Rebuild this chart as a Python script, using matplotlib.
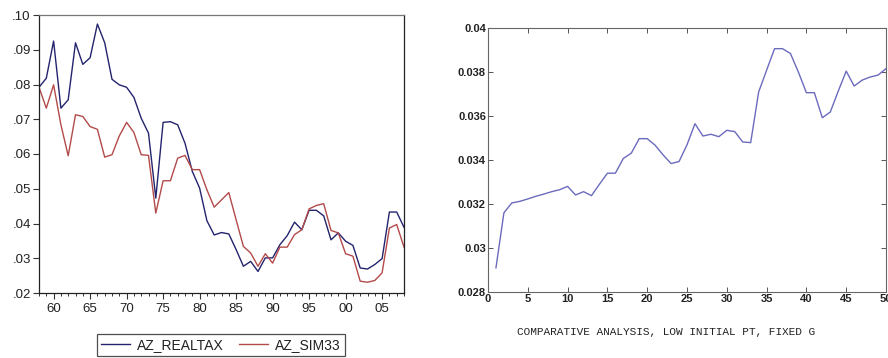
import matplotlib
matplotlib.use("Agg")
import matplotlib.pyplot as plt
from matplotlib.lines import Line2D
import numpy as np

# ---- Left panel data: annual series 1958-2008 ----
years = list(range(1958, 2009))
az_realtax = [
    0.0792, 0.0818, 0.0925, 0.0732, 0.0756, 0.0920, 0.0858, 0.0877, 0.0974, 0.0920,
    0.0815, 0.0799, 0.0792, 0.0763, 0.0703, 0.0660, 0.0473, 0.0691, 0.0693, 0.0684,
    0.0631, 0.0550, 0.0502, 0.0408, 0.0367, 0.0374, 0.0370, 0.0325, 0.0277, 0.0291,
    0.0262, 0.0301, 0.0301, 0.0339, 0.0365, 0.0404, 0.0382, 0.0438, 0.0438, 0.0422,
    0.0353, 0.0373, 0.0349, 0.0337, 0.0272, 0.0269, 0.0282, 0.0299, 0.0433, 0.0433,
    0.0389,
]
az_sim33 = [
    0.0792, 0.0732, 0.0799, 0.0684, 0.0595, 0.0713, 0.0708, 0.0679, 0.0671, 0.0591,
    0.0598, 0.0652, 0.0691, 0.0662, 0.0598, 0.0596, 0.0430, 0.0523, 0.0523, 0.0588,
    0.0596, 0.0555, 0.0555, 0.0497, 0.0447, 0.0468, 0.0489, 0.0411, 0.0334, 0.0315,
    0.0277, 0.0313, 0.0286, 0.0332, 0.0332, 0.0368, 0.0382, 0.0442, 0.0452, 0.0457,
    0.0380, 0.0373, 0.0313, 0.0306, 0.0234, 0.0231, 0.0236, 0.0258, 0.0387, 0.0397,
    0.0332,
]
left_yticks = [0.02, 0.03, 0.04, 0.05, 0.06, 0.07, 0.08, 0.09, 0.10]
left_yticklabels = [".02", ".03", ".04", ".05", ".06", ".07", ".08", ".09", ".10"]
left_xticks = list(range(1960, 2006, 5))
left_xticklabels = ["60", "65", "70", "75", "80", "85", "90", "95", "00", "05"]
series_names = ["AZ_REALTAX", "AZ_SIM33"]

# ---- Right panel data: simulated path over 50 periods ----
periods = list(range(1, 51))
sim_path = [
    0.02910, 0.03160, 0.03205, 0.03212, 0.03223, 0.03235, 0.03245, 0.03256, 0.03265, 0.03280,
    0.03241, 0.03256, 0.03238, 0.03290, 0.03340, 0.03340, 0.03407, 0.03431, 0.03497, 0.03497,
    0.03467, 0.03423, 0.03384, 0.03393, 0.03469, 0.03565, 0.03509, 0.03517, 0.03506, 0.03535,
    0.03529, 0.03482, 0.03479, 0.03709, 0.03808, 0.03906, 0.03906, 0.03884, 0.03799, 0.03706,
    0.03706, 0.03592, 0.03618, 0.03713, 0.03804, 0.03736, 0.03763, 0.03777, 0.03786, 0.03815,
]
right_yticks = [0.028, 0.03, 0.032, 0.034, 0.036, 0.038, 0.04]
right_yticklabels = ["0.028", "0.03", "0.032", "0.034", "0.036", "0.038", "0.04"]
right_xticks = list(range(0, 51, 5))
caption = "COMPARATIVE ANALYSIS, LOW INITIAL PT, FIXED G"

W, H = 888, 358
fig = plt.figure(figsize=(W / 100, H / 100), dpi=100)
fig.patch.set_facecolor("white")

def box(l, t, r, b):
    return [l / W, 1 - b / H, (r - l) / W, (b - t) / H]

# ---------------- Left panel ----------------
ax1 = fig.add_axes(box(39, 15, 404, 293))
blue = "#23236e"
red = "#b34a4a"
ax1.plot(years, az_realtax, color=blue, lw=1.0)
ax1.plot(years, az_sim33, color=red, lw=1.0)
ax1.set_xlim(1958, 2008)
ax1.set_ylim(0.02, 0.10)
ax1.set_yticks(left_yticks)
ax1.set_yticklabels(left_yticklabels)
ax1.set_xticks(left_xticks)
ax1.set_xticklabels(left_xticklabels)
ax1.set_xticks(years, minor=True)
for lab in ax1.get_xticklabels() + ax1.get_yticklabels():
    lab.set_family("Liberation Sans")
    lab.set_fontsize(9.5)
    lab.set_color("#222222")
ax1.tick_params(axis="both", which="major", direction="out", length=4, width=0.8,
                color="#333333", pad=2)
ax1.tick_params(axis="x", which="minor", direction="out", length=2.5, width=0.7,
                color="#333333")
ax1.tick_params(axis="x", which="major", length=4.5, pad=3)
for side in ["left", "bottom", "right"]:
    ax1.spines[side].set_color("#222222")
    ax1.spines[side].set_linewidth(0.9)
ax1.spines["top"].set_color("#777777")
ax1.spines["top"].set_linewidth(0.9)

handles = [Line2D([], [], color=blue, lw=1.0), Line2D([], [], color=red, lw=1.0)]
leg = fig.legend(handles, series_names, loc="center",
                 bbox_to_anchor=(221 / W, 1 - 345 / H), ncol=2,
                 prop={"family": "Liberation Sans", "size": 10},
                 frameon=True, fancybox=False, handlelength=2.1,
                 handletextpad=0.5, columnspacing=1.1, borderpad=0.3,
                 borderaxespad=0)
leg.get_frame().set_edgecolor("#222222")
leg.get_frame().set_linewidth(0.9)
for t in leg.get_texts():
    t.set_color("#222222")

# ---------------- Right panel ----------------
ax2 = fig.add_axes(box(488, 28, 886, 292))
ax2.plot(periods, sim_path, color="#6b6bbd", lw=1.0)
ax2.set_xlim(0, 50)
ax2.set_ylim(0.028, 0.04)
ax2.set_xticks(right_xticks)
ax2.set_yticks(right_yticks)
ax2.set_yticklabels(right_yticklabels)
for lab in ax2.get_xticklabels() + ax2.get_yticklabels():
    lab.set_family("Liberation Sans")
    lab.set_fontsize(8)
    lab.set_fontweight("bold")
    lab.set_color("#222222")
ax2.tick_params(axis="both", direction="in", length=3.5, width=0.7, color="#555555",
                top=True, right=True, pad=1.5)
for s in ax2.spines.values():
    s.set_color("#666666")
    s.set_linewidth(0.8)

fig.text(666 / W, 1 - 332 / H, caption, ha="center", va="center",
         family="Liberation Mono", fontsize=8, color="#222222")

fig.savefig("out.png", dpi=100, facecolor="white")
